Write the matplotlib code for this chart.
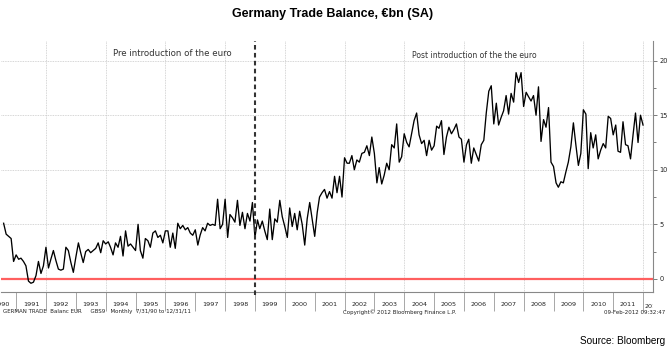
import matplotlib
matplotlib.use("Agg")
import matplotlib.pyplot as plt
import matplotlib.dates as mdates
from matplotlib.transforms import Bbox
import pandas as pd
import numpy as np

# ---- data: German trade balance, EUR bn (SA), monthly Jul-1990 .. Dec-2011 ----
start_month = "1990-07-31"
tb_1990 = [5.1, 4.1, 3.9, 3.7, 1.6, 2.2]
tb_1991 = [1.8, 1.9, 1.6, 1.2, -0.2, -0.4, -0.3, 0.3, 1.6, 0.5, 1.2, 2.9]
tb_1992 = [1.0, 1.8, 2.6, 1.7, 0.9, 0.8, 0.9, 2.9, 2.6, 1.5, 0.6, 2.0]
tb_1993 = [3.3, 2.4, 1.5, 2.5, 2.7, 2.4, 2.6, 2.8, 3.3, 2.4, 3.5, 3.2]
tb_1994 = [3.4, 2.9, 2.2, 3.3, 2.9, 3.9, 2.1, 4.4, 3.0, 3.2, 2.9, 2.6]
tb_1995 = [5.0, 2.6, 1.9, 3.7, 3.5, 2.9, 4.2, 4.4, 3.8, 4.0, 3.3, 4.4]
tb_1996 = [4.4, 2.9, 4.2, 2.8, 5.1, 4.6, 4.9, 4.5, 4.7, 4.2, 4.0, 4.5]
tb_1997 = [3.1, 4.0, 4.7, 4.4, 5.1, 4.9, 5.0, 4.9, 7.3, 4.6, 5.0, 7.3]
tb_1998 = [3.8, 5.9, 5.6, 5.2, 7.2, 4.9, 6.1, 4.6, 6.0, 5.3, 7.0, 3.8]
tb_1999 = [5.4, 4.6, 5.3, 4.4, 3.6, 6.4, 3.6, 5.5, 5.2, 7.2, 5.7, 4.8]
tb_2000 = [3.8, 6.5, 4.8, 6.0, 4.5, 6.2, 5.0, 3.1, 5.5, 7.0, 5.5, 3.9]
tb_2001 = [6.1, 7.5, 7.9, 8.2, 7.4, 8.0, 7.4, 9.4, 7.9, 9.4, 7.5, 11.1]
tb_2002 = [10.6, 10.6, 11.3, 10.0, 10.9, 10.7, 11.5, 11.6, 12.2, 11.3, 13.0, 11.5]
tb_2003 = [8.8, 10.2, 8.7, 9.5, 10.6, 10.0, 12.3, 12.0, 14.2, 10.7, 11.2, 13.3]
tb_2004 = [12.5, 12.1, 13.3, 14.5, 15.2, 13.2, 12.4, 12.7, 11.3, 12.7, 11.8, 12.2]
tb_2005 = [14.0, 13.8, 14.5, 11.4, 13.0, 13.9, 13.3, 13.7, 14.2, 13.0, 12.8, 10.7]
tb_2006 = [12.3, 12.8, 10.6, 12.0, 11.4, 10.8, 12.3, 12.7, 15.2, 17.2, 17.7, 14.2]
tb_2007 = [16.1, 14.1, 14.8, 15.4, 16.8, 15.1, 17.0, 16.2, 18.9, 18.0, 18.9, 15.8]
tb_2008 = [17.1, 16.7, 16.3, 16.8, 15.0, 17.6, 12.6, 14.6, 13.9, 15.7, 10.7, 10.3]
tb_2009 = [8.8, 8.4, 8.9, 8.8, 9.8, 10.7, 12.1, 14.3, 12.3, 10.4, 11.5, 15.5]
tb_2010 = [15.1, 10.1, 13.4, 12.0, 13.2, 11.0, 11.8, 12.4, 12.0, 14.9, 14.7, 13.2]
tb_2011 = [14.1, 11.7, 11.6, 14.4, 12.3, 12.2, 11.0, 13.2, 15.2, 12.5, 15.0, 14.1]

years_labels = list(range(1990, 2013))
y_ticks = [0, 5, 10, 15, 20]
euro_date = "1999-01-01"
title = "Germany Trade Balance, \u20acbn (SA)"
pre_label = "Pre introduction of the euro"
post_label = "Post introduction of the the euro"

values = np.array(tb_1990 + tb_1991 + tb_1992 + tb_1993 + tb_1994 + tb_1995 +
                  tb_1996 + tb_1997 + tb_1998 + tb_1999 + tb_2000 + tb_2001 +
                  tb_2002 + tb_2003 + tb_2004 + tb_2005 + tb_2006 + tb_2007 +
                  tb_2008 + tb_2009 + tb_2010 + tb_2011)
dates = pd.date_range(start_month, periods=len(values), freq="ME")

W, H = 670, 353
fig = plt.figure(figsize=(W / 100, H / 100), dpi=100)
fig.patch.set_facecolor("white")

L, R, T, B = 1, 653, 41, 292
ax = fig.add_axes([L / W, 1 - B / H, (R - L) / W, (B - T) / H])

ax.plot(dates, values, color="black", lw=0.95, zorder=3)
ax.axhline(0, color="#ff5f5f", lw=1.6, zorder=2)
ax.axvline(pd.Timestamp(euro_date), color="#333333", lw=1.5,
           ls=(0, (2.2, 1.6)), zorder=4, clip_on=False, ymin=-0.01)

ax.set_xlim(pd.Timestamp("1990-06-29"), pd.Timestamp("2012-05-01"))
ax.set_ylim(-1.2, 21.8)

# spines
for s in ["left", "top"]:
    ax.spines[s].set_visible(False)
for s in ["bottom", "right"]:
    ax.spines[s].set_color("#888888")
    ax.spines[s].set_linewidth(0.8)

# x axis: year boundaries as major ticks (no labels), mid-years as labels
ax.xaxis.set_major_locator(mdates.YearLocator(1))
ax.xaxis.set_major_formatter(plt.NullFormatter())
mid = [pd.Timestamp(f"{y}-07-01") for y in years_labels[:-1]]
ax.set_xticks(mid, minor=True)
ax.set_xticklabels([str(y) for y in years_labels[:-1]], minor=True)
ax.tick_params(axis="x", which="major", length=14, width=0.6, color="#999999",
               direction="out")
ax.tick_params(axis="x", which="minor", length=0, pad=7, labelsize=4.6,
               labelcolor="#222222")

# last (clipped) label "2012"
t = ax.text(pd.Timestamp("2012-01-20"), 0, str(years_labels[-1]),
            transform=ax.get_xaxis_transform(), ha="left", va="top",
            fontsize=4.6, color="#222222")
t.set_y(-11.5 / (B - T))
t.set_clip_box(Bbox([[0, 0], [R, H]]))
t.set_clip_on(True)

# vertical grid every 2 years
for yv in range(1992, 2013, 2):
    ax.axvline(pd.Timestamp(f"{yv}-01-01"), color="#c8c8c8", lw=0.6,
               ls=(0, (1, 1)), zorder=1)

# y axis on right
ax.yaxis.tick_right()
ax.set_yticks(y_ticks)
ax.set_yticklabels([str(v) for v in y_ticks])
ax.set_yticks([2.5, 7.5, 12.5, 17.5], minor=True)
ax.tick_params(axis="y", which="major", length=3, width=0.6, color="#666666",
               labelsize=4.8, pad=1.5, labelcolor="#222222")
ax.tick_params(axis="y", which="minor", length=2, width=0.6, color="#666666")
for yv in y_ticks[1:]:
    ax.axhline(yv, color="#c8c8c8", lw=0.6, ls=(0, (1, 1)), zorder=1)

# annotations
ax.text(pd.Timestamp("1996-03-20"), 0, pre_label, transform=ax.get_xaxis_transform(),
        ha="center", va="center", fontsize=6.2, color="#333333").set_y(1 - (54 - T) / (B - T))
ax.text(pd.Timestamp("2006-05-10"), 0, post_label, transform=ax.get_xaxis_transform(),
        ha="center", va="center", fontsize=5.5, color="#333333").set_y(1 - (55 - T) / (B - T))

fig.text(333 / W, 1 - 14 / H, title, ha="center", va="center", fontsize=9.0,
         fontweight="bold", family=["Liberation Sans Narrow", "Liberation Sans", "DejaVu Sans"])

small = dict(fontsize=4.0, color="#222222", va="center")
fig.text(3 / W, 1 - 312 / H, "GERMAN TRADE  Balanc EUR     GBS9   Monthly  7/31/90 to 12/31/11",
         ha="left", **small)
fig.text(343 / W, 1 - 312 / H, "Copyright\u00a9 2012 Bloomberg Finance L.P.", ha="left", **small)
fig.text(665 / W, 1 - 312 / H, "09-Feb-2012 09:32:47", ha="right", **small)
fig.text(665 / W, 1 - 341 / H, "Source: Bloomberg", ha="right", va="center", fontsize=7.2,
         family=["Liberation Sans Narrow", "Liberation Sans", "DejaVu Sans"], color="black")

fig.savefig("out.png", dpi=100, facecolor="white")
